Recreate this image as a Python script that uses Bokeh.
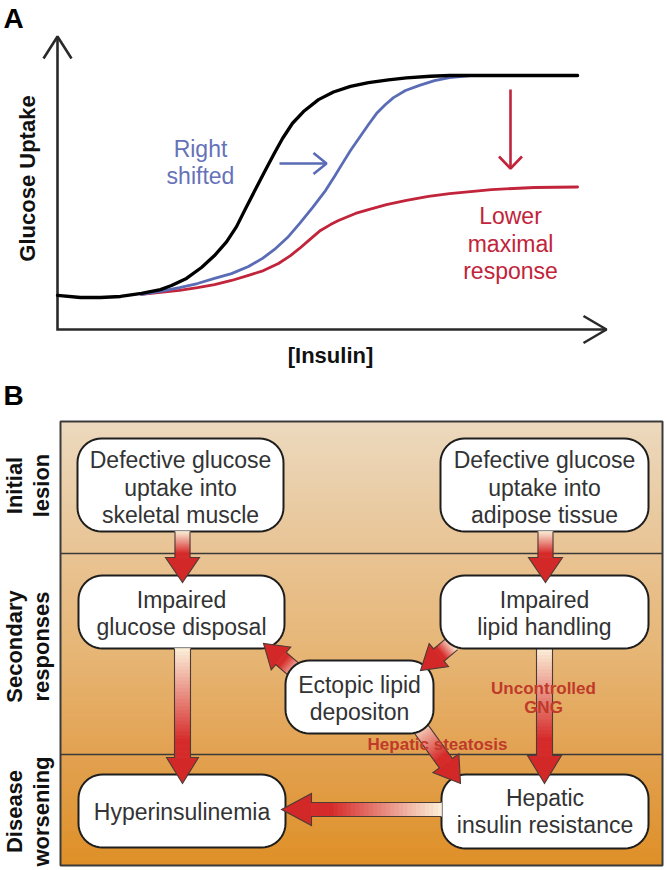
import numpy as np
from bokeh.plotting import figure
from bokeh.models import Range1d
from bokeh.layouts import column
from bokeh.embed import file_html
from bokeh.resources import INLINE
from bokeh.core.properties import value

FONT = value("Liberation Sans")

# ---------------- Panel A data (arbitrary units) ----------------
insulin_black = [0, 0.444, 0.83, 1.216, 1.622, 1.988, 2.201, 2.49, 2.78, 3.031, 3.263, 3.456, 3.629, 3.822,
                 4.015, 4.189, 4.344, 4.537, 4.749, 5.039, 5.328, 5.656, 6.004, 6.39, 6.737, 7.2, 7.57, 10.04]
uptake_black = [0.134, 0.126, 0.126, 0.13, 0.142, 0.157, 0.173, 0.201, 0.244, 0.291, 0.345, 0.405, 0.475, 0.552,
                0.628, 0.695, 0.752, 0.812, 0.858, 0.905, 0.935, 0.957, 0.972, 0.983, 0.991, 0.997, 1.0, 1.0]

insulin_blue = [1.622, 1.988, 2.355, 2.703, 3.031, 3.359, 3.687, 3.958, 4.189, 4.44, 4.672, 4.923, 5.174, 5.347,
                5.502, 5.656, 5.83, 6.004, 6.158, 6.332, 6.486, 6.718, 6.988, 7.278, 7.568, 7.973, 10.04]
uptake_blue = [0.138, 0.15, 0.165, 0.181, 0.201, 0.22, 0.248, 0.28, 0.315, 0.362, 0.417, 0.48, 0.547, 0.602,
               0.654, 0.705, 0.756, 0.807, 0.85, 0.886, 0.913, 0.941, 0.961, 0.98, 0.992, 1.0, 1.0]

insulin_red = [1.622, 1.988, 2.355, 2.703, 3.031, 3.359, 3.687, 3.977, 4.266, 4.498, 4.672, 4.846, 5.077, 5.27,
               5.425, 5.753, 6.004, 6.351, 6.737, 7.162, 7.568, 7.973, 8.378, 9.208, 10.04]
uptake_red = [0.138, 0.146, 0.154, 0.165, 0.177, 0.193, 0.213, 0.232, 0.26, 0.291, 0.319, 0.35, 0.39, 0.413,
              0.429, 0.457, 0.472, 0.492, 0.508, 0.524, 0.535, 0.543, 0.551, 0.559, 0.561]

label_right_shifted = ["Right", "shifted"]
label_lower = ["Lower", "maximal", "response"]

# ---------------- Panel B data ----------------
row_labels = [["Initial", "lesion"], ["Secondary", "responses"], ["Disease", "worsening"]]
row_label_cy = [485, 646, 811]
row_dividers = [553, 754]

box_lines = [
    ["Defective glucose", "uptake into", "skeletal muscle"],
    ["Defective glucose", "uptake into", "adipose tissue"],
    ["Impaired", "glucose disposal"],
    ["Impaired", "lipid handling"],
    ["Ectopic lipid", "depositon"],
    ["Hyperinsulinemia"],
    ["Hepatic", "insulin resistance"],
]
box_left = [77, 440, 78, 440, 285, 78, 441]
box_right = [283, 648, 284, 648, 433, 285, 648]
box_top = [438, 438, 575, 575, 660, 774, 774]
box_bottom = [531, 531, 648, 648, 733, 847, 848]
box_text_cy = [487, 487, 613, 613, 698, 811, 811]

# arrows: tail -> tip
arrow_tail_x = [182, 545, 182, 544, 298, 452, 416, 441]
arrow_tail_y = [531, 531, 648, 648, 673, 643, 722, 809]
arrow_tip_x = [182, 545, 182, 544, 263, 420, 460, 281]
arrow_tip_y = [582, 582, 783, 783, 643, 670, 783, 809]
arrow_shaft_hw = [7.5, 7.5, 8, 8, 8, 8, 8, 7]
arrow_head_hw = [17, 17, 16, 17, 15, 15, 16, 16]
arrow_head_len = [25, 25, 26, 28, 23, 24, 25, 30]

red_notes = ["Uncontrolled", "GNG", "Hepatic steatosis"]
red_note_x = [543, 543, 437]
red_note_y = [688, 707, 744]

bg_stop_y = [421, 553, 654, 754, 865]
bg_stop_colors = ["#ecd9be", "#e8c393", "#e6b574", "#e2a150", "#de8f26"]

W = 667
HA = 378
HB = 492
BL = 8  # correction for alphabetic baseline placement (px)


def hex_to_rgb(h):
    return np.array([int(h[i:i + 2], 16) for i in (1, 3, 5)], float)


def rgb_to_hex(c):
    return "#%02x%02x%02x" % tuple(int(round(v)) for v in c)


# ================= Panel A =================
SX, SY = 51.8, 254.0  # px per unit
pa = figure(width=W, height=HA, x_range=Range1d(-57 / SX, (667 - 57) / SX),
            y_range=Range1d((329 - 378) / SY, 329 / SY),
            output_backend="svg", toolbar_location=None, x_axis_type=None, y_axis_type=None,
            min_border=0, outline_line_color=None, background_fill_color="white", border_fill_color="white")
pa.grid.visible = False

AX = "#2a2a2a"
y_tip = (329 - 36) / SY
x_tip = (606 - 57) / SX
pa.line([0, 0, x_tip], [y_tip, 0, 0], line_color=AX, line_width=2.6, line_join="miter")
pa.line([-14 / SX, 0, 14 / SX], [y_tip - 22 / SY, y_tip, y_tip - 22 / SY], line_color=AX, line_width=2.6)
pa.line([x_tip - 23 / SX, x_tip, x_tip - 23 / SX], [13.5 / SY, 0, -13.5 / SY], line_color=AX, line_width=2.6)

RED = "#c1243b"
BLUE = "#5b6cb6"
pa.line(insulin_red, uptake_red, line_color=RED, line_width=2.8, line_join="round", line_cap="round")
pa.line(insulin_blue, uptake_blue, line_color=BLUE, line_width=2.8, line_join="round", line_cap="round")
pa.line(insulin_black, uptake_black, line_color="black", line_width=3.3, line_join="round", line_cap="round")

bx0, bx1, by = (279 - 57) / SX, (326 - 57) / SX, (329 - 163) / SY
pa.line([bx0, bx1], [by, by], line_color=BLUE, line_width=2.6)
pa.line([bx1 - 13 / SX, bx1, bx1 - 13 / SX], [by + 10.5 / SY, by, by - 10.5 / SY], line_color=BLUE, line_width=2.6)
rx, ry0, ry1 = (510 - 57) / SX, (329 - 89) / SY, (329 - 168) / SY
pa.line([rx, rx], [ry0, ry1], line_color=RED, line_width=2.6)
pa.line([rx - 11.5 / SX, rx, rx + 11.5 / SX], [ry1 + 12 / SY, ry1, ry1 + 12 / SY], line_color=RED, line_width=2.6)


def ya(py):
    return (329 - (py - BL)) / SY


pa.text(x=[(200 - 57) / SX] * 2, y=[ya(156), ya(183)], text=label_right_shifted,
        text_font=FONT, text_font_size="23px", text_color="#6672b8", text_align="center", text_baseline="alphabetic")
pa.text(x=[(510 - 57) / SX] * 3, y=[ya(223), ya(251), ya(278)], text=label_lower,
        text_font=FONT, text_font_size="23px", text_color=RED, text_align="center", text_baseline="alphabetic")
pa.text(x=[(35 - BL - 57) / SX], y=[(329 - 178) / SY], text=["Glucose Uptake"], angle=np.pi / 2,
        text_font=FONT, text_font_size="22px", text_font_style="bold", text_color="#111111",
        text_align="center", text_baseline="alphabetic")
pa.text(x=[(330 - 57) / SX], y=[ya(363)], text=["[Insulin]"],
        text_font=FONT, text_font_size="22px", text_font_style="bold", text_color="#111111",
        text_align="center", text_baseline="alphabetic")
pa.text(x=[(3 - 57) / SX], y=[ya(26)], text=["A"], text_font=FONT, text_font_size="28px",
        text_font_style="bold", text_color="black", text_align="left", text_baseline="alphabetic")

# ================= Panel B =================
pb = figure(width=W, height=HB, x_range=Range1d(0, 667), y_range=Range1d(870, 378),
            output_backend="svg", toolbar_location=None, x_axis_type=None, y_axis_type=None,
            min_border=0, outline_line_color=None, background_fill_color="white", border_fill_color="white")
pb.grid.visible = False

edges = np.arange(421, 866, 2.0)
mids = (edges[:-1] + edges[1:]) / 2
stops = np.array([hex_to_rgb(c) for c in bg_stop_colors])
cols = [rgb_to_hex([np.interp(m, bg_stop_y, stops[:, k]) for k in range(3)]) for m in mids]
pb.quad(left=60, right=662, top=edges[:-1], bottom=edges[1:], fill_color=cols, line_color=cols, line_width=0.8)
pb.quad(left=[60], right=[662], top=[421], bottom=[865], fill_color=None, line_color="#3a3a3a", line_width=2)
pb.segment(x0=60, x1=662, y0=row_dividers, y1=row_dividers, line_color="#3a3a3a", line_width=1.6)

BOX_R = 24


def rounded_rect(l, r, t, b, rad, n=12):
    xs, ys = [], []
    for cx, cy, a0 in [(l + rad, t + rad, 180), (r - rad, t + rad, 270), (r - rad, b - rad, 0), (l + rad, b - rad, 90)]:
        a = np.radians(np.linspace(a0, a0 + 90, n))
        xs += list(cx + rad * np.cos(a))
        ys += list(cy + rad * np.sin(a))
    return xs, ys


def draw_box(i):
    xs, ys = rounded_rect(box_left[i], box_right[i], box_top[i], box_bottom[i], BOX_R)
    pb.patch(xs, ys, fill_color="white", line_color="#1e1e1e", line_width=2)


CREAM = hex_to_rgb("#fcf1da")
ARED = hex_to_rgb("#d62b2b")
HEAD = "#d22828"


def draw_arrow(j, nseg=30):
    tail = np.array([arrow_tail_x[j], arrow_tail_y[j]], float)
    tip = np.array([arrow_tip_x[j], arrow_tip_y[j]], float)
    d = tip - tail
    L = np.hypot(*d)
    u = d / L
    nrm = np.array([-u[1], u[0]])
    shw, hhw, hl = arrow_shaft_hw[j], arrow_head_hw[j], arrow_head_len[j]
    base = tip - u * hl
    sx, sy, sc = [], [], []
    for k in range(nseg):
        t0, t1 = k / nseg, (k + 1) / nseg
        p0 = tail + (base - tail) * t0
        p1 = tail + (base - tail) * t1
        q = [p0 + nrm * shw, p1 + nrm * shw, p1 - nrm * shw, p0 - nrm * shw]
        sx.append([p[0] for p in q])
        sy.append([p[1] for p in q])
        s = min(1.0, ((t0 + t1) / 2) / 0.85)
        sc.append(rgb_to_hex(CREAM + (ARED - CREAM) * s))
    pb.patches(sx, sy, fill_color=sc, line_color=sc, line_width=0.8)
    h = [base + nrm * hhw, tip, base - nrm * hhw]
    pb.patch([p[0] for p in h], [p[1] for p in h], fill_color=HEAD, line_color=None)
    o = [tail + nrm * shw, base + nrm * shw, base + nrm * hhw, tip, base - nrm * hhw, base - nrm * shw, tail - nrm * shw]
    pb.line([p[0] for p in o], [p[1] for p in o], line_color="#4d3b35", line_width=1.1, line_join="miter")


draw_order = [("b", 0), ("b", 1), ("b", 2), ("b", 5), ("b", 6),
              ("a", 2), ("a", 3), ("a", 7), ("a", 4), ("a", 6),
              ("b", 4), ("a", 5), ("b", 3), ("a", 0), ("a", 1)]
for kind, idx in draw_order:
    if kind == "b":
        draw_box(idx)
    else:
        draw_arrow(idx)

tx, ty, tt = [], [], []
LINE = 27.5
for i, lines in enumerate(box_lines):
    n = len(lines)
    for k, s in enumerate(lines):
        tx.append((box_left[i] + box_right[i]) / 2)
        ty.append(box_text_cy[i] + (k - (n - 1) / 2) * LINE)
        tt.append(s)
pb.text(x=tx, y=ty, text=tt, text_font=FONT, text_font_size="23px", text_color="#333333",
        text_align="center", text_baseline="middle")

pb.text(x=red_note_x, y=red_note_y, text=red_notes, text_font=FONT, text_font_size="17px",
        text_font_style="bold", text_color="#bf3a2a", text_align="center", text_baseline="middle")

rx_, ry_, rt_ = [], [], []
for i, lines in enumerate(row_labels):
    for k, s in enumerate(lines):
        rx_.append([22 - BL, 49 - BL][k])
        ry_.append(row_label_cy[i])
        rt_.append(s)
pb.text(x=rx_, y=ry_, text=rt_, angle=np.pi / 2, text_font=FONT, text_font_size="22px",
        text_font_style="bold", text_color="#111111", text_align="center", text_baseline="alphabetic")

pb.text(x=[3], y=[403 - BL], text=["B"], text_font=FONT, text_font_size="28px", text_font_style="bold",
        text_color="black", text_align="left", text_baseline="alphabetic")

layout = column(pa, pb, spacing=0)
open("out.html", "w").write(file_html(layout, INLINE))
